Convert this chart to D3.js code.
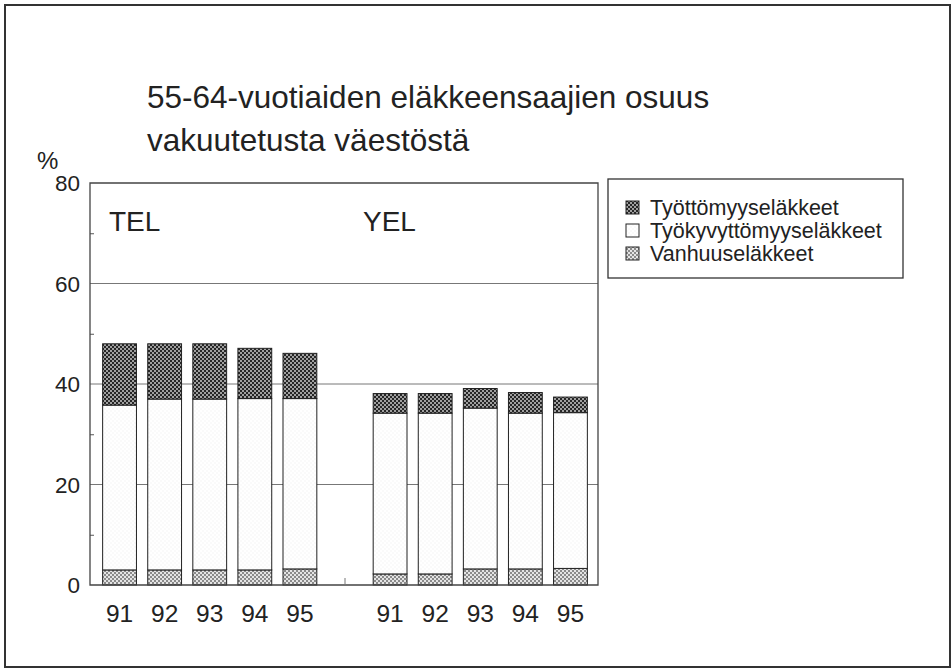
<!DOCTYPE html>
<html>
<head>
<meta charset="utf-8">
<script src="https://d3js.org/d3.v7.min.js"></script>
<style>
  body { margin: 0; background: #fff; }
  svg text { font-family: "Liberation Sans", Arial, sans-serif; fill: #222; }
</style>
</head>
<body>
<div id="chart"></div>
<script>
// values (percent of insured population aged 55-64)
var years = ["91", "92", "93", "94", "95"];
var groups = ["TEL", "YEL"];
var seriesNames = ["Työttömyyseläkkeet", "Työkyvyttömyyseläkkeet", "Vanhuuseläkkeet"];
var vanhuus = { TEL: [3.0, 3.0, 3.0, 3.0, 3.2], YEL: [2.2, 2.2, 3.2, 3.2, 3.3] };
var tyokyv  = { TEL: [32.8, 34.0, 34.0, 34.1, 33.9], YEL: [32.0, 32.0, 32.0, 31.0, 31.0] };
var tyott   = { TEL: [12.2, 11.0, 11.0, 10.0, 9.0], YEL: [3.9, 3.9, 3.9, 4.1, 3.1] };
var yTicks = [0, 20, 40, 60, 80];
var yMinor = [10, 30, 50, 70];

var width = 951, height = 669;

var svg = d3.select("#chart").append("svg")
    .attr("width", width)
    .attr("height", height);

// fill patterns
var defs = svg.append("defs");
function checker(id, dark, light) {
  var p = defs.append("pattern").attr("id", id)
      .attr("width", 4).attr("height", 4)
      .attr("patternUnits", "userSpaceOnUse");
  p.append("rect").attr("width", 4).attr("height", 4).attr("fill", dark);
  p.append("rect").attr("width", 2).attr("height", 2).attr("fill", light);
  p.append("rect").attr("x", 2).attr("y", 2).attr("width", 2).attr("height", 2).attr("fill", light);
}
checker("pDark", "#262626", "#a0a0a0");
checker("pLight", "#8a8a8a", "#e4e4e4");
checker("pWhite", "#ffffff", "#fafafa");
var fills = {
  "Työttömyyseläkkeet": "url(#pDark)",
  "Työkyvyttömyyseläkkeet": "url(#pWhite)",
  "Vanhuuseläkkeet": "url(#pLight)"
};

// outer frame
svg.append("rect")
  .attr("x", 5).attr("y", 5).attr("width", 945).attr("height", 662)
  .attr("fill", "none").attr("stroke", "#333").attr("stroke-width", 2);

// title
svg.append("text").attr("x", 147).attr("y", 108)
  .attr("font-size", 31.5).text("55-64-vuotiaiden eläkkeensaajien osuus");
svg.append("text").attr("x", 147).attr("y", 151)
  .attr("font-size", 31.5).text("vakuutetusta väestöstä");
svg.append("text").attr("x", 37).attr("y", 169)
  .attr("font-size", 24).text("%");

// scales
var slots = [];
years.forEach(function(y){ slots.push("TEL-" + y); });
slots.push("gap");
years.forEach(function(y){ slots.push("YEL-" + y); });

var x = d3.scaleBand().domain(slots).range([97, 593])
    .paddingInner(0.25).paddingOuter(0.125);
var y = d3.scaleLinear().domain([0, 80]).range([585, 183]);

var left = 90, right = 598;

// gridlines
svg.selectAll("line.grid").data([20, 40, 60]).enter().append("line")
  .attr("class", "grid")
  .attr("x1", left).attr("x2", right)
  .attr("y1", function(d){ return y(d); }).attr("y2", function(d){ return y(d); })
  .attr("stroke", "#777").attr("stroke-width", 1);

// y axis with inner ticks
var yAxis = svg.append("g").attr("transform", "translate(" + left + ",0)")
  .call(d3.axisRight(y).tickValues(yMinor).tickSize(4).tickFormat(""));
yAxis.select(".domain").remove();
yAxis.selectAll("line").attr("stroke", "#555");

svg.selectAll("text.ylab").data(yTicks).enter().append("text")
  .attr("class", "ylab")
  .attr("x", 80).attr("y", function(d){ return y(d) + 8; })
  .attr("text-anchor", "end").attr("font-size", 22.5)
  .text(function(d){ return d; });

// bars
var stackKeys = ["Vanhuuseläkkeet", "Työkyvyttömyyseläkkeet", "Työttömyyseläkkeet"];
var rows = [];
groups.forEach(function(g){
  years.forEach(function(yr, i){
    rows.push({
      slot: g + "-" + yr,
      "Vanhuuseläkkeet": vanhuus[g][i],
      "Työkyvyttömyyseläkkeet": tyokyv[g][i],
      "Työttömyyseläkkeet": tyott[g][i]
    });
  });
});
var stacked = d3.stack().keys(stackKeys)(rows);

svg.selectAll("g.series").data(stacked).enter().append("g")
  .attr("class", "series")
  .attr("fill", function(s){ return fills[s.key]; })
  .selectAll("rect").data(function(s){ return s; }).enter().append("rect")
  .attr("x", function(d){ return x(d.data.slot); })
  .attr("width", x.bandwidth())
  .attr("y", function(d){ return y(d[1]); })
  .attr("height", function(d){ return y(d[0]) - y(d[1]); })
  .attr("stroke", "#222").attr("stroke-width", 1);

// plot frame
svg.append("path")
  .attr("d", "M" + left + "," + y(80) + "H" + right + "V" + y(0) + "H" + left + "Z")
  .attr("fill", "none").attr("stroke", "#444").attr("stroke-width", 1.3);

// tick between the groups
svg.append("line")
  .attr("x1", x("gap") + x.bandwidth() / 2).attr("x2", x("gap") + x.bandwidth() / 2)
  .attr("y1", y(0)).attr("y2", y(0) - 7)
  .attr("stroke", "#777");

// x labels
svg.selectAll("text.xlab").data(rows).enter().append("text")
  .attr("class", "xlab")
  .attr("x", function(d){ return x(d.slot) + x.bandwidth() / 2; })
  .attr("y", 622)
  .attr("text-anchor", "middle").attr("font-size", 24.5)
  .text(function(d){ return d.slot.split("-")[1]; });

// group labels
svg.append("text").attr("x", 109).attr("y", 231).attr("font-size", 28).text(groups[0]);
svg.append("text").attr("x", 363).attr("y", 231).attr("font-size", 28).text(groups[1]);

// legend
var lg = svg.append("g");
lg.append("rect").attr("x", 608).attr("y", 179).attr("width", 295).attr("height", 99)
  .attr("fill", "#fff").attr("stroke", "#333").attr("stroke-width", 1.3);
seriesNames.forEach(function(name, i){
  var cy = 207 + i * 23;
  lg.append("rect").attr("x", 626).attr("y", cy - 6).attr("width", 13).attr("height", 13)
    .attr("fill", fills[name]).attr("stroke", "#222");
  lg.append("text").attr("x", 650).attr("y", cy + 7.5).attr("font-size", 21.5).text(name);
});
</script>
</body>
</html>
